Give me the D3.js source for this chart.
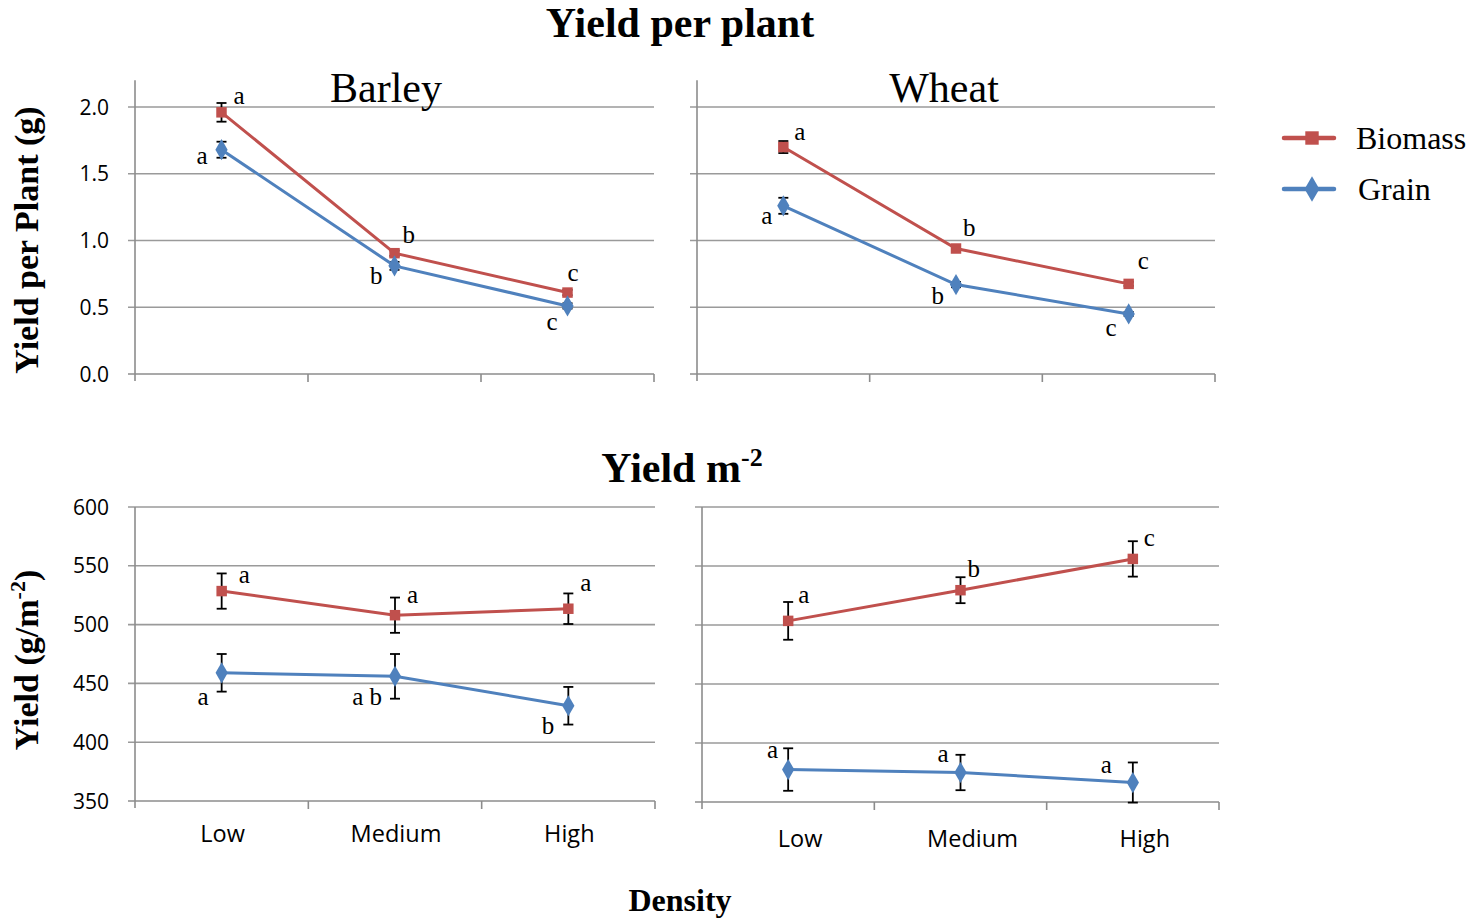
<!DOCTYPE html>
<html>
<head>
<meta charset="utf-8">
<script src="https://cdn.jsdelivr.net/npm/d3@7"></script>
<style>
  body { margin: 0; background: #fff; }
  svg text { fill: #000; }
  .tick-lab { font-family: "Open Sans", "Liberation Sans", sans-serif; font-size: 21px; }
  .cat-lab { font-family: "Open Sans", "Liberation Sans", sans-serif; font-size: 23.5px; }
  .serif { font-family: "Liberation Serif", "DejaVu Serif", serif; }
</style>
</head>
<body>
<div id="chart"></div>
<script>
var categories = ["Low", "Medium", "High"];
var seriesNames = ["Biomass", "Grain"];

// yield per plant (g)
var barleyPlantBiomass = [1.96, 0.905, 0.61];
var barleyPlantBiomassErr = [0.07, 0.02, 0.02];
var barleyPlantGrain = [1.68, 0.81, 0.51];
var barleyPlantGrainErr = [0.06, 0.03, 0.02];
var barleyPlantBiomassLetters = ["a", "b", "c"];
var barleyPlantGrainLetters = ["a", "b", "c"];

var wheatPlantBiomass = [1.70, 0.94, 0.675];
var wheatPlantBiomassErr = [0.045, 0.015, 0.015];
var wheatPlantGrain = [1.26, 0.67, 0.45];
var wheatPlantGrainErr = [0.06, 0.02, 0.015];
var wheatPlantBiomassLetters = ["a", "b", "c"];
var wheatPlantGrainLetters = ["a", "b", "c"];

// yield per m2 (g/m2)
var barleyAreaBiomass = [528.5, 508, 513.5];
var barleyAreaBiomassErr = [15, 15, 13];
var barleyAreaGrain = [459, 456, 431];
var barleyAreaGrainErr = [16, 19, 16];
var barleyAreaBiomassLetters = ["a", "a", "a"];
var barleyAreaGrainLetters = ["a", "a b", "b"];

var wheatAreaBiomass = [503.5, 529.5, 556];
var wheatAreaBiomassErr = [16, 11, 15];
var wheatAreaGrain = [377.5, 375, 366.5];
var wheatAreaGrainErr = [18, 15, 17];
var wheatAreaBiomassLetters = ["a", "b", "c"];
var wheatAreaGrainLetters = ["a", "a", "a"];

var plantTicks = [0, 0.5, 1.0, 1.5, 2.0];
var areaTicks = [350, 400, 450, 500, 550, 600];

var colors = {Biomass: "#C0504D", Grain: "#4F81BD"};

var width = 1478, height = 919;
var svg = d3.select("#chart").append("svg")
  .attr("width", width).attr("height", height);

function drawPanel(p) {
  var x = d3.scaleBand().domain(categories).range([p.x0, p.x1]);
  var y = d3.scaleLinear().domain(p.domain).range([p.y0, p.y1]);
  var g = svg.append("g");

  // gridlines
  g.selectAll("line.grid").data(p.ticks).enter().append("line")
    .attr("x1", p.x0 - 7).attr("x2", p.x1)
    .attr("y1", function(d){ return y(d); }).attr("y2", function(d){ return y(d); })
    .attr("stroke", function(d, i){ return i == 0 ? "#8c8c8c" : "#9a9a9a"; })
    .attr("stroke-width", 1.6);

  // y axis line
  g.append("line").attr("x1", p.x0).attr("x2", p.x0)
    .attr("y1", y(p.domain[1])).attr("y2", p.y0 + 7)
    .attr("stroke", "#8c8c8c").attr("stroke-width", 1.6);

  // category ticks
  var bounds = categories.map(function(c){ return x(c); }).concat([p.x1]);
  g.selectAll("line.xt").data(bounds.slice(1)).enter().append("line")
    .attr("x1", function(d){ return d; }).attr("x2", function(d){ return d; })
    .attr("y1", p.y0).attr("y2", p.y0 + 8)
    .attr("stroke", "#8c8c8c").attr("stroke-width", 1.6);

  if (p.yLabels) {
    g.selectAll("text.yt").data(p.ticks).enter().append("text")
      .attr("class", "tick-lab")
      .attr("x", p.x0 - 26).attr("y", function(d){ return y(d); })
      .attr("dy", "0.36em").attr("text-anchor", "end")
      .text(function(d){ return p.fmt(d); });
  }
  if (p.xLabels) {
    g.selectAll("text.xl").data(categories).enter().append("text")
      .attr("class", "cat-lab")
      .attr("x", function(d){ return x(d) + x.bandwidth() / 2 + p.xLabelDx; })
      .attr("y", p.xLabelY)
      .attr("text-anchor", "middle")
      .text(function(d){ return d; });
  }

  p.series.forEach(function(s) {
    var col = colors[s.name];
    var pts = categories.map(function(c, i){
      return {cx: x(c) + x.bandwidth() / 2, v: s.values[i], e: s.err[i], l: s.letters[i], i: i};
    });
    // error bars
    var eb = g.selectAll(null).data(pts).enter().append("g");
    eb.append("line").attr("x1", function(d){ return d.cx; }).attr("x2", function(d){ return d.cx; })
      .attr("y1", function(d){ return y(d.v + d.e); }).attr("y2", function(d){ return y(d.v - d.e); })
      .attr("stroke", "#000").attr("stroke-width", 1.8);
    [1, -1].forEach(function(sg){
      eb.append("line").attr("x1", function(d){ return d.cx - 5; }).attr("x2", function(d){ return d.cx + 5; })
        .attr("y1", function(d){ return y(d.v + sg * d.e); }).attr("y2", function(d){ return y(d.v + sg * d.e); })
        .attr("stroke", "#000").attr("stroke-width", 1.8);
    });
    // line
    g.append("path").datum(pts)
      .attr("d", d3.line().x(function(d){ return d.cx; }).y(function(d){ return y(d.v); }))
      .attr("fill", "none").attr("stroke", col).attr("stroke-width", 3);
    // markers
    var sym = s.name == "Biomass" ? d3.symbolSquare : d3.symbolDiamond;
    var size = s.name == "Biomass" ? 110 : 130;
    g.selectAll(null).data(pts).enter().append("path")
      .attr("d", d3.symbol().type(sym).size(size))
      .attr("transform", function(d){ return "translate(" + d.cx + "," + y(d.v) + ")"; })
      .attr("fill", col);
    // significance letters
    g.selectAll(null).data(pts).enter().append("text")
      .attr("class", "serif").attr("font-size", 25)
      .attr("x", function(d){ return d.cx + s.lx[d.i]; })
      .attr("y", function(d){ return y(d.v) + s.ly[d.i]; })
      .attr("text-anchor", function(d){ return s.lx[d.i] < 0 ? "end" : "start"; })
      .text(function(d){ return d.l; });
  });
}

var f1 = d3.format(".1f"), f0 = d3.format("d");

drawPanel({x0: 135, x1: 654, y0: 374, y1: 80.3, domain: [0, 2.2], ticks: plantTicks,
  yLabels: true, fmt: f1, series: [
    {name: "Biomass", values: barleyPlantBiomass, err: barleyPlantBiomassErr, letters: barleyPlantBiomassLetters,
      lx: [12, 8, 0], ly: [-8, -10, -12]},
    {name: "Grain", values: barleyPlantGrain, err: barleyPlantGrainErr, letters: barleyPlantGrainLetters,
      lx: [-14, -12, -10], ly: [14, 18, 24]}]});

drawPanel({x0: 697, x1: 1215, y0: 374, y1: 80.3, domain: [0, 2.2], ticks: plantTicks,
  yLabels: false, series: [
    {name: "Biomass", values: wheatPlantBiomass, err: wheatPlantBiomassErr, letters: wheatPlantBiomassLetters,
      lx: [11, 7, 9], ly: [-7, -13, -15]},
    {name: "Grain", values: wheatPlantGrain, err: wheatPlantGrainErr, letters: wheatPlantGrainLetters,
      lx: [-11, -12, -12], ly: [18, 19, 22]}]});

drawPanel({x0: 135, x1: 655, y0: 801, y1: 507, domain: [350, 600], ticks: areaTicks,
  yLabels: true, fmt: f0, xLabels: true, xLabelY: 842, xLabelDx: 1, series: [
    {name: "Biomass", values: barleyAreaBiomass, err: barleyAreaBiomassErr, letters: barleyAreaBiomassLetters,
      lx: [17, 12, 12], ly: [-8, -12, -18]},
    {name: "Grain", values: barleyAreaGrain, err: barleyAreaGrainErr, letters: barleyAreaGrainLetters,
      lx: [-13, -13, -14], ly: [32, 29, 28]}]});

drawPanel({x0: 702, x1: 1219, y0: 802, y1: 507, domain: [350, 600], ticks: areaTicks,
  yLabels: false, xLabels: true, xLabelY: 847, xLabelDx: 12, series: [
    {name: "Biomass", values: wheatAreaBiomass, err: wheatAreaBiomassErr, letters: wheatAreaBiomassLetters,
      lx: [10, 7, 11], ly: [-18, -13, -13]},
    {name: "Grain", values: wheatAreaGrain, err: wheatAreaGrainErr, letters: wheatAreaGrainLetters,
      lx: [-10, -12, -21], ly: [-12, -11, -10]}]});

// titles
svg.append("text").attr("class", "serif").attr("x", 680).attr("y", 37)
  .attr("text-anchor", "middle").attr("font-size", 42).attr("font-weight", "bold")
  .text("Yield per plant");
var t2 = svg.append("text").attr("class", "serif").attr("x", 682).attr("y", 482)
  .attr("text-anchor", "middle").attr("font-size", 42).attr("font-weight", "bold");
t2.append("tspan").text("Yield m");
t2.append("tspan").attr("dy", -16).attr("font-size", 26).text("-2");

svg.append("text").attr("class", "serif").attr("x", 386).attr("y", 102)
  .attr("text-anchor", "middle").attr("font-size", 42).text("Barley");
svg.append("text").attr("class", "serif").attr("x", 944).attr("y", 102)
  .attr("text-anchor", "middle").attr("font-size", 42).text("Wheat");

svg.append("text").attr("class", "serif").attr("x", 680).attr("y", 911)
  .attr("text-anchor", "middle").attr("font-size", 32).attr("font-weight", "bold")
  .text("Density");

svg.append("text").attr("class", "serif")
  .attr("transform", "translate(38,240) rotate(-90)")
  .attr("text-anchor", "middle").attr("font-size", 34).attr("font-weight", "bold")
  .text("Yield per Plant (g)");
var yl2 = svg.append("text").attr("class", "serif")
  .attr("transform", "translate(38,660) rotate(-90)")
  .attr("text-anchor", "middle").attr("font-size", 34).attr("font-weight", "bold");
yl2.append("tspan").text("Yield (g/m");
yl2.append("tspan").attr("dy", -13).attr("font-size", 22).text("-2");
yl2.append("tspan").attr("dy", 13).text(")");

// legend
var leg = svg.append("g").selectAll("g").data(seriesNames).enter().append("g")
  .attr("transform", function(d, i){ return "translate(1284," + (138 + i * 51) + ")"; });
leg.append("line").attr("x1", 0).attr("x2", 50).attr("stroke-width", 4.5)
  .attr("stroke-linecap", "round")
  .attr("stroke", function(d){ return colors[d]; });
leg.append("path")
  .attr("d", function(d){ return d3.symbol().type(d == "Biomass" ? d3.symbolSquare : d3.symbolDiamond).size(d == "Biomass" ? 180 : 190)(); })
  .attr("transform", "translate(28,0)")
  .attr("fill", function(d){ return colors[d]; });
leg.append("text").attr("class", "serif").attr("font-size", 32)
  .attr("x", function(d, i){ return 72 + i * 2; }).attr("dy", "0.33em")
  .text(function(d){ return d; });
</script>
</body>
</html>
